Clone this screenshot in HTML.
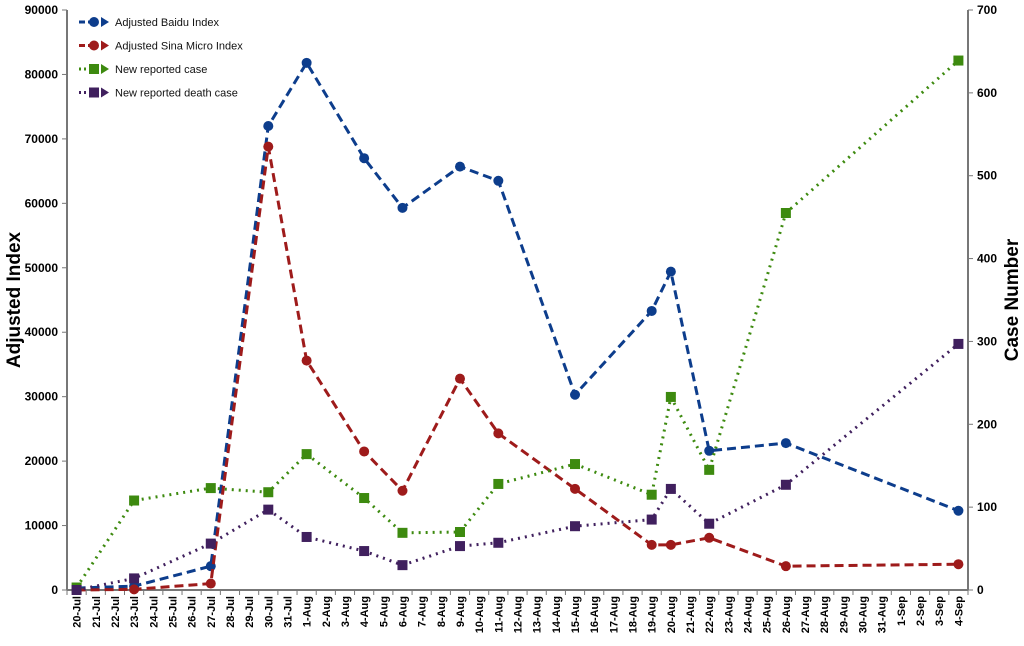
<!DOCTYPE html>
<html><head><meta charset="utf-8"><style>
body{margin:0;background:#fff;width:1024px;height:641px;overflow:hidden;font-family:"Liberation Sans",sans-serif}
text{font-family:"Liberation Sans",sans-serif}
</style></head><body>
<svg id="c" width="1024" height="641"></svg>
<script>
const dates=["20-Jul","21-Jul","22-Jul","23-Jul","24-Jul","25-Jul","26-Jul","27-Jul","28-Jul","29-Jul","30-Jul","31-Jul","1-Aug","2-Aug","3-Aug","4-Aug","5-Aug","6-Aug","7-Aug","8-Aug","9-Aug","10-Aug","11-Aug","12-Aug","13-Aug","14-Aug","15-Aug","16-Aug","17-Aug","18-Aug","19-Aug","20-Aug","21-Aug","22-Aug","23-Aug","24-Aug","25-Aug","26-Aug","27-Aug","28-Aug","29-Aug","30-Aug","31-Aug","1-Sep","2-Sep","3-Sep","4-Sep"];
const pointIdx=[0,3,7,10,12,15,17,20,22,26,30,31,33,37,46];
const baidu=[300,600,3700,72000,81800,67000,59300,65700,63500,30300,43300,49400,21600,22800,12300];
const sina=[0,100,1000,68800,35600,21500,15400,32800,24300,15700,7000,7000,8100,3700,4000];
const cases=[3,108,123,118,164,111,69,70,128,152,115,233,145,455,639];
const deaths=[0,14,56,97,64,47,30,53,57,77,85,122,80,127,297];
const leftTicks=[0,10000,20000,30000,40000,50000,60000,70000,80000,90000];
const rightTicks=[0,100,200,300,400,500,600,700];
const X0=67,X1=968,Y0=590,Y1=10;
const step=(X1-X0)/dates.length;
const xs=i=>X0+step*(i+0.5);
const yl=v=>Y0-(v/90000)*(Y0-Y1);
const yr=v=>Y0-(v/700)*(Y0-Y1);
const svg=document.getElementById('c');
const NS="http://www.w3.org/2000/svg";
function mk(t,a,p){const e=document.createElementNS(NS,t);for(const k in a)e.setAttribute(k,a[k]);(p||svg).appendChild(e);return e;}
// axes
let ax=mk('line',{x1:X0,y1:Y1,x2:X0,y2:Y0,stroke:'#777','stroke-width':2});

ax=mk('line',{x1:X1,y1:Y1,x2:X1,y2:Y0,stroke:'#777','stroke-width':2});

ax=mk('line',{x1:X0,y1:Y0,x2:X1,y2:Y0,stroke:'#777','stroke-width':2});

leftTicks.forEach(v=>{const y=yl(v);mk('line',{x1:X0-5,y1:y,x2:X0,y2:y,stroke:'#777'});
 const t=mk('text',{x:X0-9,y:y+4,'text-anchor':'end','font-size':12,'font-weight':'bold'});t.textContent=v;
 });
rightTicks.forEach(v=>{const y=yr(v);mk('line',{x1:X1,y1:y,x2:X1+5,y2:y,stroke:'#777'});
 const t=mk('text',{x:X1+9,y:y+4,'text-anchor':'start','font-size':12,'font-weight':'bold'});t.textContent=v;
 });
for(let i=0;i<=dates.length;i++){const x=X0+step*i;mk('line',{x1:x,y1:Y0,x2:x,y2:Y0+5,stroke:'#777'});}
dates.forEach((d,i)=>{const x=xs(i)+4;const t=mk('text',{x:x,y:Y0+6,'text-anchor':'end','font-size':11,'font-weight':'bold',transform:`rotate(-90 ${x} ${Y0+6})`});t.textContent=d;
 });
let t=mk('text',{x:20,y:300,'text-anchor':'middle','font-size':19,'font-weight':'bold',transform:'rotate(-90 20 300)'});t.textContent='Adjusted Index';

t=mk('text',{x:1018,y:300,'text-anchor':'middle','font-size':19,'font-weight':'bold',transform:'rotate(-90 1018 300)'});t.textContent='Case Number';

function marker(g,x,y,shape,col){
 if(shape==='c')mk('circle',{cx:x,cy:y,r:5,fill:col},g);else mk('rect',{x:x-5,y:y-5,width:10,height:10,fill:col},g);
}
function series(name,vals,sc,col,dash,w,shape){
 const g=mk('g',{});
 const pts=vals.map((v,k)=>[xs(pointIdx[k]),sc(v)]);
 mk('polyline',{points:pts.map(p=>p.join(',')).join(' '),fill:'none',stroke:col,'stroke-width':w,'stroke-dasharray':dash},g);
 pts.forEach(p=>marker(g,p[0],p[1],shape,col));
}
series('baidu-series',baidu,yl,'#0d3d8c','9,5',3,'c');
series('sina-series',sina,yl,'#9e1b1b','9,5',3,'c');
series('cases-series',cases,yr,'#3d8a0f','2,5',3,'s');
series('deaths-series',deaths,yr,'#40205e','2,5',3,'s');
// legend
const leg=[['Adjusted Baidu Index','#0d3d8c','6,3','c'],['Adjusted Sina Micro Index','#9e1b1b','6,3','c'],['New reported case','#3d8a0f','2,3','s'],['New reported death case','#40205e','2,3','s']];
leg.forEach((l,i)=>{const y=22+i*23.5;const g=mk('g',{});
 mk('line',{x1:79,y1:y,x2:90,y2:y,stroke:l[1],'stroke-width':3,'stroke-dasharray':l[2]},g);
 marker(g,94,y,l[3],l[1]);
 mk('polygon',{points:`${101},${y-5} ${109},${y} ${101},${y+5}`,fill:l[1]},g);
 const tx=mk('text',{x:115,y:y+4,'font-size':11,fill:'#111'},g);tx.textContent=l[0];});
</script>
</body></html>
